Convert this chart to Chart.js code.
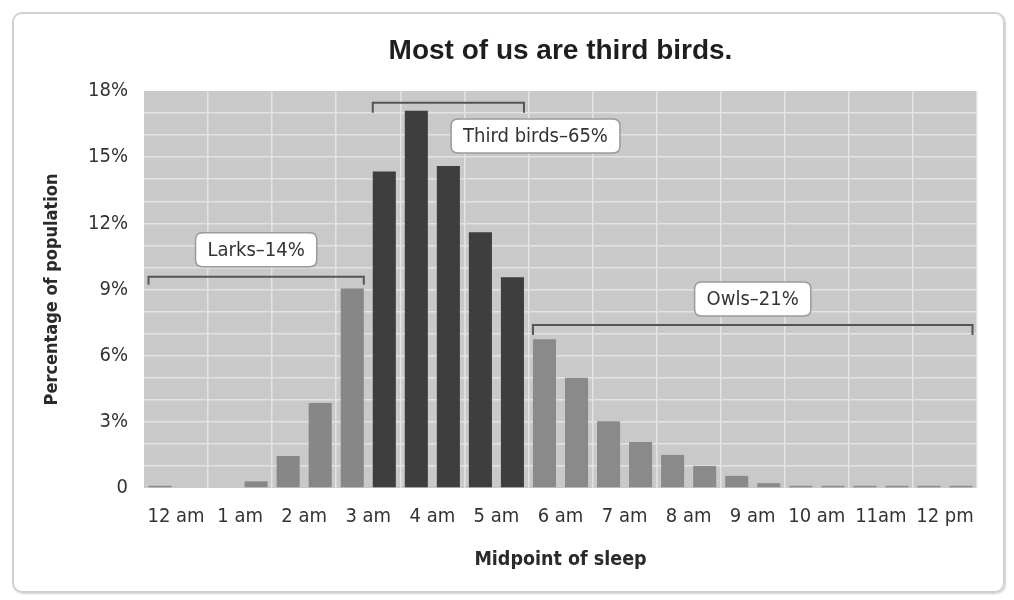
<!DOCTYPE html>
<html><head><meta charset="utf-8">
<script src="https://cdn.jsdelivr.net/npm/chart.js@4/dist/chart.umd.min.js"></script>
<style>
html,body{margin:0;padding:0;background:#fff;}
#wrap{position:relative;width:1014px;height:600px;overflow:hidden;}
#frame{position:absolute;left:12px;top:12px;width:989px;height:577px;border:2px solid #d0d0d0;border-radius:10px;box-shadow:1px 1px 2px rgba(0,0,0,0.18);}
canvas{position:absolute;left:0;top:0;}
</style></head><body>
<div id="wrap"><div id="frame"></div><canvas id="c" width="1014" height="600"></canvas></div>
<script>
// ---- data ----
const chartTitle = 'Most of us are third birds.';
const xTitle = 'Midpoint of sleep';
const yTitle = 'Percentage of population';
const hourLabels = ['12 am','1 am','2 am','3 am','4 am','5 am','6 am','7 am','8 am','9 am','10 am','11am','12 pm'];
const slotLabels = ['12:00 am','12:30 am','1:00 am','1:30 am','2:00 am','2:30 am','3:00 am','3:30 am','4:00 am','4:30 am','5:00 am','5:30 am','6:00 am','6:30 am','7:00 am','7:30 am','8:00 am','8:30 am','9:00 am','9:30 am','10:00 am','10:30 am','11:00 am','11:30 am','12:00 pm','12:30 pm'];
const sleepShare = [0.1,0,0,0.3,1.45,3.85,9.05,14.35,17.1,14.6,11.6,9.55,6.75,5.0,3.03,2.08,1.5,1.0,0.55,0.22,0.1,0.1,0.1,0.1,0.1,0.1];
const groupNames = ['Larks–14%','Third birds–65%','Owls–21%'];
const groupFirst = [0,7,12];
const groupLast  = [6,11,25];
const yTickLabels = ['0','3%','6%','9%','12%','15%','18%'];

// ---- styling / annotation placement ----
const groupColors = ['#878787','#3e3e3e','#8a8a8a'];
const annot = {
  bracketLevel: [9.58, 17.47, 7.39],
  labelX: [3, 11.72, 18.5],
  labelY: [10.8, 15.96, 8.57],
  tick: [8, 10, 10]
};
const NARROW = '"Liberation Sans Narrow", "DejaVu Sans Condensed", "Arial Narrow", sans-serif';
const SANS = '"Liberation Sans", Arial, Helvetica, sans-serif';

function groupOf(i){ for(let g=0; g<groupFirst.length; g++){ if(i>=groupFirst[g] && i<=groupLast[g]) return g; } return 0; }
const barColors = sleepShare.map((v,i)=>groupColors[groupOf(i)]);
const BAR_FRAC = 0.72;

const bgPlugin = {
  id:'bg',
  beforeDraw(chart){
    const {ctx, chartArea:a} = chart;
    ctx.save(); ctx.fillStyle = '#c9c9c9';
    ctx.fillRect(a.left, a.top, a.right-a.left, a.bottom-a.top);
    ctx.restore();
  }
};

function roundRect(ctx,x,y,w,h,r){
  ctx.beginPath();
  ctx.moveTo(x+r,y); ctx.lineTo(x+w-r,y); ctx.quadraticCurveTo(x+w,y,x+w,y+r);
  ctx.lineTo(x+w,y+h-r); ctx.quadraticCurveTo(x+w,y+h,x+w-r,y+h);
  ctx.lineTo(x+r,y+h); ctx.quadraticCurveTo(x,y+h,x,y+h-r);
  ctx.lineTo(x,y+r); ctx.quadraticCurveTo(x,y,x+r,y); ctx.closePath();
}

const annotPlugin = {
  id:'groups',
  afterDatasetsDraw(chart){
    const {ctx} = chart;
    const xs = chart.scales.x, ys = chart.scales.y;
    const slot = xs.getPixelForValue(1) - xs.getPixelForValue(0);
    const half = slot*BAR_FRAC/2;
    ctx.save();
    for(let g=0; g<groupNames.length; g++){
      const x0 = xs.getPixelForValue(groupFirst[g]) - half;
      const x1 = xs.getPixelForValue(groupLast[g]) + half;
      const y = ys.getPixelForValue(annot.bracketLevel[g]);
      const t = annot.tick[g];
      ctx.strokeStyle = '#555'; ctx.lineWidth = 2;
      ctx.beginPath();
      ctx.moveTo(x0, y+t); ctx.lineTo(x0, y); ctx.lineTo(x1, y); ctx.lineTo(x1, y+t);
      ctx.stroke();
      // label box
      ctx.font = '20px ' + NARROW;
      const tw = ctx.measureText(groupNames[g]).width;
      const cx = xs.getPixelForValue(annot.labelX[g]);
      const cy = ys.getPixelForValue(annot.labelY[g]);
      const w = tw + 24, h = 34;
      roundRect(ctx, cx-w/2, cy-h/2, w, h, 7);
      ctx.fillStyle = '#fff'; ctx.fill();
      ctx.strokeStyle = '#9a9a9a'; ctx.lineWidth = 1.5; ctx.stroke();
      ctx.fillStyle = '#333'; ctx.textAlign = 'center'; ctx.textBaseline = 'middle';
      ctx.fillText(groupNames[g], cx, cy+1);
    }
    ctx.restore();
  }
};

const titlePlugin = {
  id:'ctitle',
  afterDraw(chart){
    const {ctx, chartArea:a} = chart;
    ctx.save();
    ctx.font = 'bold 28px ' + SANS;
    ctx.fillStyle = '#1e1e1e'; ctx.textAlign='center'; ctx.textBaseline='middle';
    ctx.fillText(chartTitle, (a.left+a.right)/2, 51);
    ctx.restore();
  }
};

new Chart(document.getElementById('c'), {
  type:'bar',
  data:{
    labels: slotLabels,
    datasets:[{
      data: sleepShare,
      backgroundColor: barColors,
      borderWidth: 0,
      barPercentage: BAR_FRAC,
      categoryPercentage: 1,
      xAxisID:'x', yAxisID:'y'
    }]
  },
  options:{
    responsive:false,
    animation:false,
    layout:{padding:{left:0, right:37, top:91, bottom:0}},
    plugins:{legend:{display:false}, tooltip:{enabled:false}, title:{display:false}},
    scales:{
      x:{ type:'category', display:false, offset:true },
      x2:{
        type:'category', labels: hourLabels, position:'bottom', offset:true,
        grid:{ offset:true, drawTicks:false, lineWidth:1.5,
          color:(c)=> (c.index===0 || c.index===hourLabels.length) ? 'rgba(0,0,0,0)' : '#e3e3e3' },
        border:{display:false},
        ticks:{ autoSkip:false, maxRotation:0, padding:17, color:'#333', font:{family:NARROW, size:20} },
        title:{ display:true, text:xTitle, color:'#2a2a2a', font:{family:NARROW, size:19.5, weight:'bold'}, padding:{top:0,bottom:28} },
        afterFit(s){ s.height = 112; }
      },
      y:{
        min:0, max:18,
        grid:{ drawTicks:false, lineWidth:1.5,
          color:(c)=> (c.tick && (c.tick.value===18 || c.tick.value===0)) ? 'rgba(0,0,0,0)' : '#e3e3e3' },
        border:{display:false},
        ticks:{ stepSize:1, autoSkip:false, padding:16, color:'#333', font:{family:NARROW, size:20},
          callback:(v)=> (v%3===0) ? yTickLabels[v/3] : '' },
        title:{ display:true, text:yTitle, color:'#2a2a2a', font:{family:NARROW, size:18, weight:'bold'}, padding:{top:42,bottom:0} },
        afterFit(s){ s.width = 144; }
      }
    }
  },
  plugins:[bgPlugin, annotPlugin, titlePlugin]
});
</script>
</body></html>
